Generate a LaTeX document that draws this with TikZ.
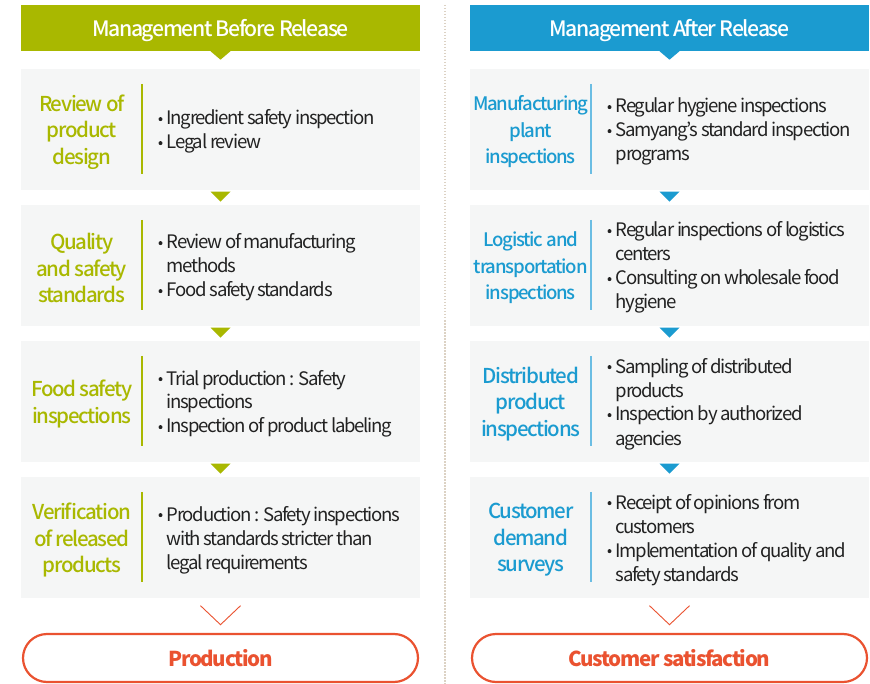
\documentclass[tikz,border=0pt]{standalone}
\usepackage{fontspec}
\setmainfont{Noto Sans CJK KR}[LetterSpace=-6.5]
\newfontfamily\bodyfont{Noto Sans CJK KR}[LetterSpace=-7.2]
\newfontfamily\medfont{Noto Sans CJK KR Medium}[LetterSpace=-6.5]
\usetikzlibrary{calc}
\definecolor{cgreen}{HTML}{A9B800}
\definecolor{cblue}{HTML}{1B9BD0}
\definecolor{cbluel}{HTML}{6BBDE3}
\definecolor{corange}{HTML}{EA5230}
\definecolor{cbox}{HTML}{F5F6F6}
\definecolor{ctext}{HTML}{222222}
\definecolor{csep}{HTML}{DCD2C4}
\newcommand\bul{\makebox[8.3pt][l]{\raisebox{3.9pt}{\tikz\fill[ctext] (0,0) circle (2pt);}}}
\tikzset{
  header/.style={fill=#1, minimum width=399pt, minimum height=46pt, inner sep=0pt},
  headtext/.style={anchor=base, inner sep=0pt, text=white, font=\medfont\fontsize{21.2}{24}\selectfont},
  stepbox/.style={fill=cbox, minimum width=399pt, minimum height=121pt, inner sep=0pt},
  steplabel/.style={text=#1, align=center, font=\medfont\fontsize{20.5}{26.5}\selectfont, inner sep=0pt, yshift=-2.5pt},
  smalllabel/.style={font=\medfont\fontsize{18.6}{26.5}\selectfont},
  stepbody/.style={anchor=west, text=ctext, font=\bodyfont\fontsize{18.6}{24}\selectfont, inner sep=0pt, yshift=-2.7pt},
  divider/.style={draw=#1, line width=1.5pt},
  tri/.style={fill=#1},
  chev/.style={draw=corange, line width=0.9pt},
  pill/.style={draw=corange, line width=2.2pt, rounded corners=24pt, minimum width=395pt, minimum height=48pt, inner sep=0pt},
  pilltext/.style={anchor=base, inner sep=0pt, text=corange, font=\bfseries\fontsize{20.5}{24}\selectfont}
}
\begin{document}
\begin{tikzpicture}[x=1pt,y=-1pt]
\useasboundingbox (0,0) rectangle (870,684);
\fill[white] (0,0) rectangle (870,684);
% separator
\coordinate (st) at (445,5);
\coordinate (sb) at (445,684);
\draw[csep, line width=1.3pt, dash pattern=on 1.5pt off 1.5pt] (st) -- (sb);

% headers
\node[header=cgreen] (hL) at (220.5,28) {};
\node[header=cblue] (hR) at (669.5,28) {};
\node[headtext] (htL) at ($(hL.center)+(0,8.5)$) {Management Before Release};
\node[headtext] (htR) at ($(hR.center)+(0,8.5)$) {Management After Release};

% boxes left
\node[stepbox] (L1) at (220.5,129.5) {};
\node[stepbox] (L2) at (220.5,265.5) {};
\node[stepbox] (L3) at (220.5,401.5) {};
\node[stepbox] (L4) at (220.5,537.5) {};
% boxes right
\node[stepbox] (R1) at (669.5,129.5) {};
\node[stepbox] (R2) at (669.5,265.5) {};
\node[stepbox] (R3) at (669.5,401.5) {};
\node[stepbox] (R4) at (669.5,537.5) {};

% triangles
\foreach \h/\c in {hL/cgreen,hR/cblue}{
  \fill[tri=\c] ($(\h.south)+(-10,0)$) -- ($(\h.south)+(10,0)$) -- ($(\h.south)+(0,8.5)$) -- cycle;
}
\foreach \b/\c in {L1/cgreen,L2/cgreen,L3/cgreen,R1/cblue,R2/cblue,R3/cblue}{
  \fill[tri=\c] ($(\b.south)+(-10,1.5)$) -- ($(\b.south)+(10,1.5)$) -- ($(\b.south)+(0,11.5)$) -- cycle;
}

% dividers
\foreach \b/\c in {L1/cgreen,L2/cgreen,L3/cgreen,L4/cgreen,R1/cbluel,R2/cbluel,R3/cbluel,R4/cbluel}{
  \draw[divider=\c] ($(\b.north west)+(121,15)$) -- ($(\b.south west)+(121,-16)$);
}

% labels left
\node[steplabel=cgreen] (lL1) at ($(L1.west)+(61,0)$) {Review of\\product\\design};
\node[steplabel=cgreen] (lL2) at ($(L2.west)+(61,0)$) {Quality\\and safety\\standards};
\node[steplabel=cgreen] (lL3) at ($(L3.west)+(61,0)$) {Food safety\\inspections};
\node[steplabel=cgreen] (lL4) at ($(L4.west)+(61,0)$) {Verification\\of released\\products};
% labels right
\node[steplabel=cblue, smalllabel] (lR1) at ($(R1.west)+(61,0)$) {Manufacturing\\plant\\inspections};
\node[steplabel=cblue, smalllabel] (lR2) at ($(R2.west)+(61,0)$) {Logistic and\\transportation\\inspections};
\node[steplabel=cblue] (lR3) at ($(R3.west)+(61,0)$) {Distributed\\product\\inspections};
\node[steplabel=cblue] (lR4) at ($(R4.west)+(61,0)$) {Customer\\demand\\surveys};

% bodies left
\node[stepbody] (tL1) at ($(L1.west)+(137.5,0)$) {\begin{tabular}{@{}l@{}l@{}}\bul & Ingredient safety inspection\\ \bul & Legal review\end{tabular}};
\node[stepbody] (tL2) at ($(L2.west)+(137.5,0)$) {\begin{tabular}{@{}l@{}l@{}}\bul & Review of manufacturing\\ & methods\\ \bul & Food safety standards\end{tabular}};
\node[stepbody] (tL3) at ($(L3.west)+(137.5,0)$) {\begin{tabular}{@{}l@{}l@{}}\bul & Trial production : Safety\\ & inspections\\ \bul & Inspection of product labeling\end{tabular}};
\node[stepbody] (tL4) at ($(L4.west)+(137.5,0)$) {\begin{tabular}{@{}l@{}l@{}}\bul & Production : Safety inspections\\ & with standards stricter than\\ & legal requirements\end{tabular}};
% bodies right
\node[stepbody] (tR1) at ($(R1.west)+(137.5,0)$) {\begin{tabular}{@{}l@{}l@{}}\bul & Regular hygiene inspections\\ \bul & Samyang’s standard inspection\\ & programs\end{tabular}};
\node[stepbody] (tR2) at ($(R2.west)+(137.5,0)$) {\begin{tabular}{@{}l@{}l@{}}\bul & Regular inspections of logistics\\ & centers\\ \bul & Consulting on wholesale food\\ & hygiene\end{tabular}};
\node[stepbody] (tR3) at ($(R3.west)+(137.5,0)$) {\begin{tabular}{@{}l@{}l@{}}\bul & Sampling of distributed\\ & products\\ \bul & Inspection by authorized\\ & agencies\end{tabular}};
\node[stepbody] (tR4) at ($(R4.west)+(137.5,0)$) {\begin{tabular}{@{}l@{}l@{}}\bul & Receipt of opinions from\\ & customers\\ \bul & Implementation of quality and\\ & safety standards\end{tabular}};

% chevrons
\foreach \b in {L4,R4}{
  \draw[chev] ($(\b.south)+(-20,7.5)$) -- ($(\b.south)+(0,26.5)$) -- ($(\b.south)+(20,7.5)$);
}

% pills
\node[pill] (pL) at (220.5,658) {};
\node[pill] (pR) at (669.5,658) {};
\node[pilltext] (ptL) at ($(pL.center)+(0,8.7)$) {Production};
\node[pilltext] (ptR) at ($(pR.center)+(0,8.7)$) {Customer satisfaction};
\end{tikzpicture}
\end{document}
